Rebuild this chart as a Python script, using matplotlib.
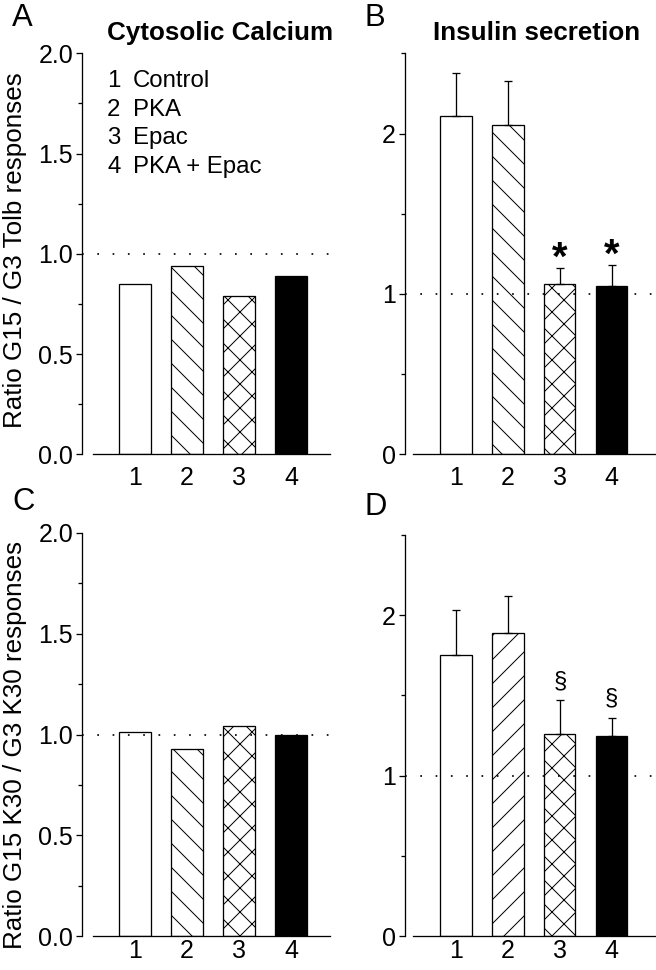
import matplotlib
matplotlib.use("Agg")
import matplotlib.pyplot as plt
from matplotlib.ticker import MultipleLocator, FormatStrFormatter

plt.rcParams['font.family'] = ['Liberation Sans', 'DejaVu Sans']
plt.rcParams['hatch.linewidth'] = 1.0

# ---- data ----
categories = ['1', '2', '3', '4']
legend_labels = ['Control', 'PKA', 'Epac', 'PKA + Epac']
calcium_tolb = [0.85, 0.94, 0.79, 0.89]
insulin_tolb = [2.11, 2.05, 1.06, 1.05]
insulin_tolb_err = [0.27, 0.28, 0.10, 0.13]
calcium_k30 = [1.01, 0.93, 1.04, 1.00]
insulin_k30 = [1.75, 1.89, 1.26, 1.25]
insulin_k30_err = [0.28, 0.23, 0.21, 0.11]
sig_tolb = ['', '', '*', '*']
sig_k30 = ['', '', '§', '§']

W, H = 656, 970
fig = plt.figure(figsize=(W / 72, H / 72), dpi=72)

def px_axes(left, right, top, bottom):
    return fig.add_axes([left / W, 1 - bottom / H, (right - left) / W, (bottom - top) / H])

faces = ['white', 'white', 'white', 'black']
hatches_top = ['', '\\', 'x', '']
hatches_d = ['', '/', 'x', '']
xpos = [1, 2, 3, 4]
FS = 25

def style(ax, ymax, major, minor, fmt, xl, xr, xstart, xpad):
    ax.set_xlim(xl, xr)
    ax.set_ylim(0, ymax)
    for s in ['top', 'right']:
        ax.spines[s].set_visible(False)
    ax.spines['left'].set_linewidth(1.3)
    ax.spines['bottom'].set_linewidth(1.3)
    ax.spines['bottom'].set_bounds(xstart, xr)
    ax.yaxis.set_major_locator(MultipleLocator(major))
    ax.yaxis.set_minor_locator(MultipleLocator(minor))
    ax.yaxis.set_major_formatter(FormatStrFormatter(fmt))
    ax.set_xticks(xpos)
    ax.set_xticklabels(categories)
    ax.tick_params(axis='x', length=0, pad=xpad, labelsize=FS)
    ax.tick_params(axis='y', which='major', length=6, width=1.3, pad=3, labelsize=FS, direction='out')
    ax.tick_params(axis='y', which='minor', length=4, width=1.3, direction='out')
    ax.patch.set_alpha(0)

def bars(ax, vals, hatches, err=None):
    for x, v, fc, h in zip(xpos, vals, faces, hatches):
        ax.bar(x, v, width=0.6, color=fc, edgecolor='black', linewidth=1.3, hatch=h, zorder=2)
    if err is not None:
        ax.errorbar(xpos, vals, yerr=[[0] * len(vals), err], fmt='none', ecolor='black',
                    elinewidth=1.3, capsize=4, capthick=1.3, zorder=3)
    ax.axhline(1.0, color='black', linestyle=(0, (1, 8)), linewidth=1.7, zorder=4)

# Panel A
axA = px_axes(82, 330, 53.3, 454.3)
style(axA, 2.0, 0.5, 0.25, '%.1f', -0.02, 4.75, 0.19, 12)
bars(axA, calcium_tolb, hatches_top)

# Panel B
axB = px_axes(405, 655, 53.3, 454.3)
style(axB, 2.5, 1, 0.5, '%d', 0.02, 4.83, 0.17, 12)
bars(axB, insulin_tolb, hatches_top, insulin_tolb_err)
for x, v, e, s in zip(xpos, insulin_tolb, insulin_tolb_err, sig_tolb):
    if s:
        axB.annotate(s, xy=(x, v + e), xytext=(0, -2), textcoords='offset points',
                     ha='center', va='baseline', fontsize=40, fontweight='bold')

# Panel C
axC = px_axes(82, 330, 533, 936)
style(axC, 2.0, 0.5, 0.25, '%.1f', -0.02, 4.75, 0.19, 3)
bars(axC, calcium_k30, hatches_top)

# Panel D
axD = px_axes(405, 655, 535, 936)
style(axD, 2.5, 1, 0.5, '%d', 0.02, 4.83, 0.17, 3)
bars(axD, insulin_k30, hatches_d, insulin_k30_err)
for x, v, e, s in zip(xpos, insulin_k30, insulin_k30_err, sig_k30):
    if s:
        axD.annotate(s, xy=(x, v + e), xytext=(0, 13), textcoords='offset points',
                     ha='center', va='baseline', fontsize=24)

def ftext(x, y, s, **kw):
    fig.text(x / W, 1 - y / H, s, **kw)

# panel letters
for (x, y, s) in [(12, 26, 'A'), (364, 26, 'B'), (12, 510, 'C'), (364, 515, 'D')]:
    ftext(x, y, s, fontsize=31, ha='left', va='baseline')

# titles
ftext(107, 40, 'Cytosolic Calcium', fontsize=26, fontweight='bold', ha='left', va='baseline')
ftext(433, 40, 'Insulin secretion', fontsize=26, fontweight='bold', ha='left', va='baseline')

# legend
for i, (c, lab) in enumerate(zip(categories, legend_labels)):
    yb = 87 + i * 28.7
    ftext(107, yb, c, fontsize=24, ha='left', va='baseline')
    ftext(133, yb, lab, fontsize=24, ha='left', va='baseline')

# y labels
ftext(15, 250, 'Ratio G15 / G3 Tolb responses', fontsize=26, rotation=90, ha='center', va='center')
ftext(15, 745, 'Ratio G15 K30 / G3 K30 responses', fontsize=26, rotation=90, ha='center', va='center')

fig.savefig('out.png', dpi=72)
